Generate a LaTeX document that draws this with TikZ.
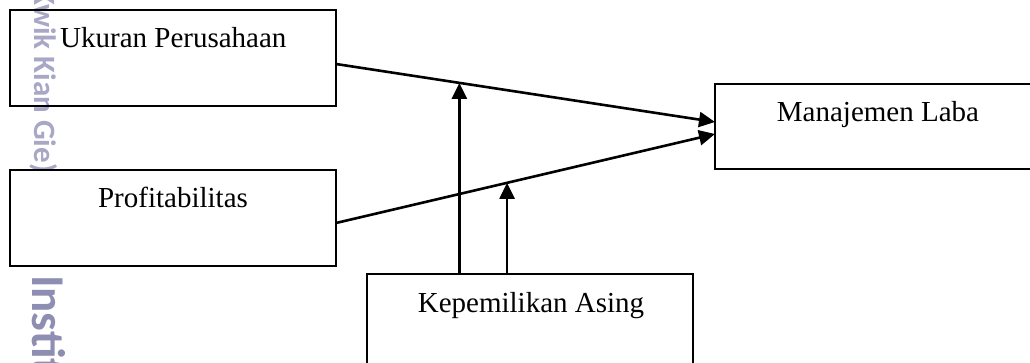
\documentclass[tikz,border=0pt]{standalone}
\usepackage{fontspec}
\setmainfont{Liberation Serif}
\newfontfamily\wmfont{Carlito}
\usetikzlibrary{arrows.meta,calc}
\definecolor{wmA}{RGB}{168,168,198}
\definecolor{wmB}{RGB}{142,142,178}
\begin{document}
\begin{tikzpicture}[x=1pt,y=-1pt,
  box/.style={draw=black,line width=2.2pt,minimum width=326pt,inner sep=0pt,outer sep=0pt},
  lbl/.style={inner sep=0pt,font=\fontsize{29}{34}\selectfont},
  conn/.style={line width=2.6pt,-{Triangle[length=16pt,width=15pt]}},
  wm/.style={inner sep=0pt,rotate=-90,font=\wmfont\bfseries}]
\useasboundingbox (0,0) rectangle (1030,363);
\clip (0,0) rectangle (1030,363);
% watermark
\node[wm,text=wmA,anchor=base east,font=\wmfont\bfseries\fontsize{31}{36}\selectfont] (wm1) at (34,173) {Kwik Kian Gie)};
\node[wm,text=wmB,anchor=base west,font=\wmfont\bfseries\fontsize{47}{54}\selectfont] (wm2) at (32,275) {Institut};
% boxes
\node[box,minimum height=96pt] (uk) at (173,58) {};
\node[box,minimum height=96pt] (pr) at (173,218) {};
\node[box,minimum height=96pt] (ka) at (530,322) {};
\node[box,minimum height=85pt] (ml) at (878,126.5) {};
% labels
\node[lbl,anchor=base west] (tuk) at (60,48) {Ukuran Perusahaan};
\node[lbl,anchor=base] (tpr) at (173,208) {Profitabilitas};
\node[lbl,anchor=base] (tka) at (531,312) {Kepemilikan Asing};
\node[lbl,anchor=base] (tml) at (878,122) {Manajemen Laba};
% connectors
\draw[conn] ([yshift=-54pt]uk.north east) -- ([yshift=4.5pt]ml.west)
  coordinate[pos=0.3255] (m1);
\draw[conn] ([yshift=-5pt]pr.east) -- ([yshift=-7.5pt]ml.west)
  coordinate[pos=0.4514] (m2);
\draw[conn] (m1 |- ka.north) -- (m1);
\draw[conn] (m2 |- ka.north) -- (m2);
\end{tikzpicture}
\end{document}
